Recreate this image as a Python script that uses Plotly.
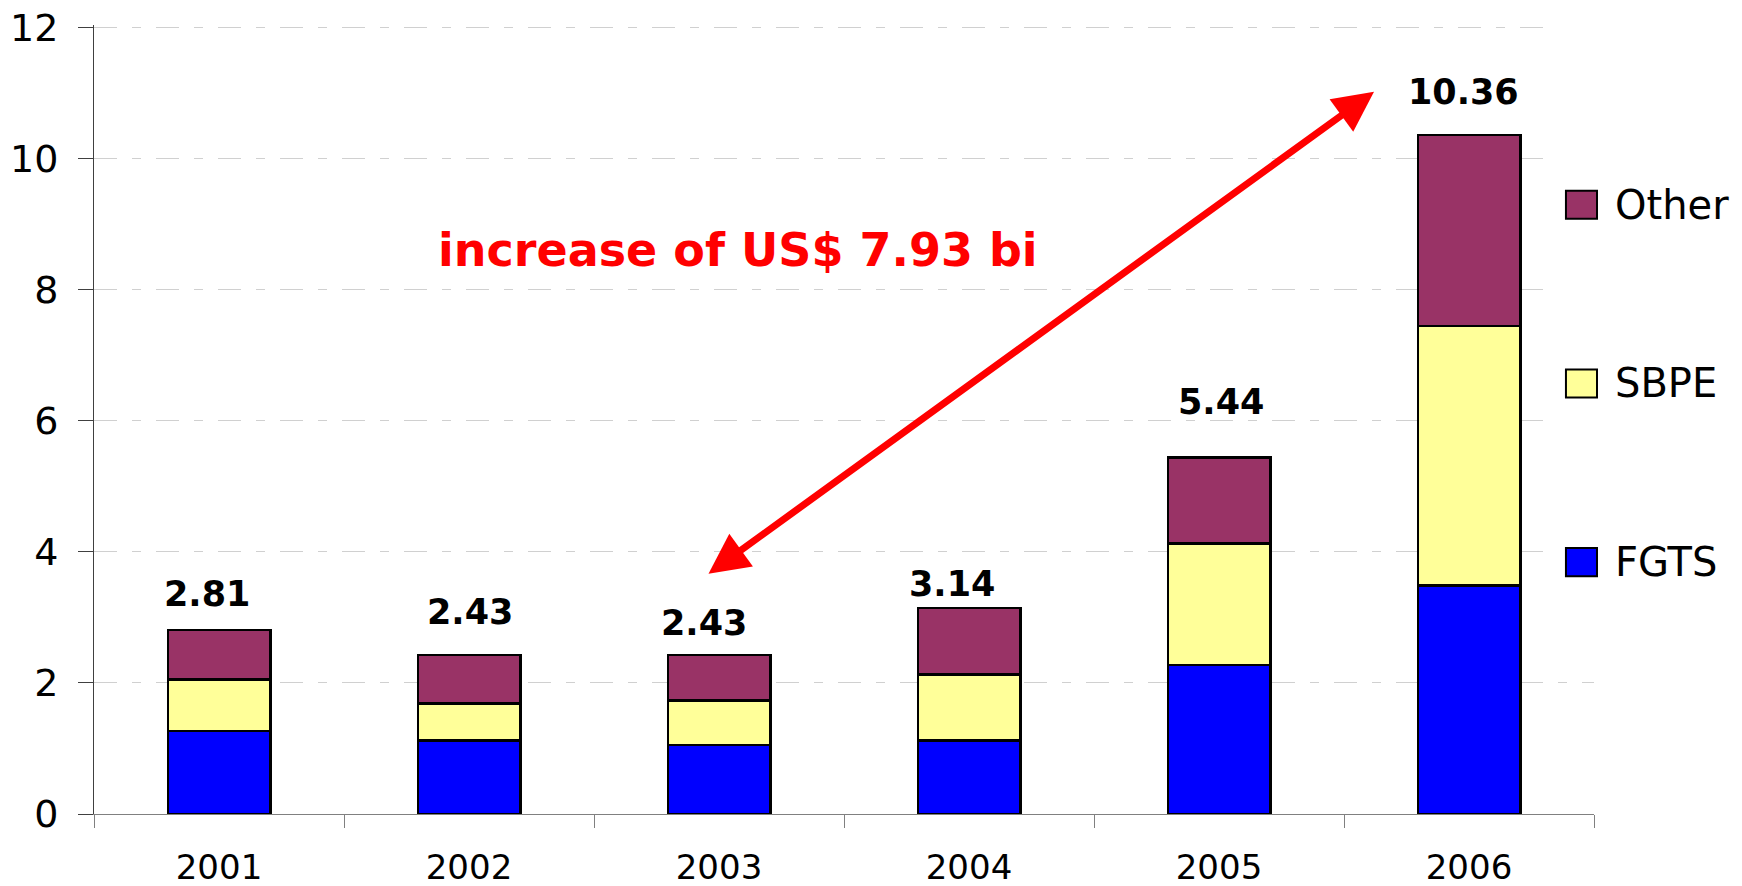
import plotly.graph_objects as go

# ---- data ----
years = ["2001", "2002", "2003", "2004", "2005", "2006"]
fgts = [1.27, 1.12, 1.05, 1.12, 2.27, 3.49]
sbpe = [0.78, 0.57, 0.68, 1.01, 1.86, 3.96]
other = [0.76, 0.74, 0.70, 1.01, 1.31, 2.91]
totals = [2.81, 2.43, 2.43, 3.14, 5.44, 10.36]
total_labels = ["2.81", "2.43", "2.43", "3.14", "5.44", "10.36"]
series_names = ["FGTS", "SBPE", "Other"]
series_colors = ["#0000FF", "#FFFF99", "#993366"]
annotation_text = "increase of US$ 7.93 bi"

# label placement tweaks (pixels), style only
label_gap = [23, 30, 19, 11, 43, 30]
label_dx = [-12, 1, -15, -17, 2, -6]

fig = go.Figure()
for name, vals, col in zip(series_names, [fgts, sbpe, other], series_colors):
    fig.add_trace(go.Bar(
        x=years, y=vals, name=name, width=0.41,
        marker=dict(color=col, line=dict(color="#000000", width=2.5)),
        showlegend=False,
    ))

annotations = []
for i, (t, lab) in enumerate(zip(totals, total_labels)):
    annotations.append(dict(
        x=i, y=t, xref="x", yref="y", text=lab, showarrow=False,
        yanchor="bottom", xanchor="center",
        yshift=label_gap[i] - 9, xshift=label_dx[i],
        font=dict(family="DejaVu Sans", size=35, color="#000000", weight="bold"),
    ))

# double-headed arrow
annotations.append(dict(
    x=4.62, y=11.02, ax=1.952, ay=3.65,
    xref="x", yref="y", axref="x", ayref="y",
    text="", showarrow=True, arrowside="end+start",
    arrowhead=2, startarrowhead=2, arrowsize=1.15, startarrowsize=1.15,
    arrowwidth=7, arrowcolor="#FF0000", standoff=0, startstandoff=0,
))
annotations.append(dict(
    x=2.076, y=8.61, xref="x", yref="y", text=annotation_text, showarrow=False,
    xanchor="center", yanchor="middle",
    font=dict(family="DejaVu Sans", size=46, color="#FF0000", weight="bold"),
))

# manual legend (Other, SBPE, FGTS from top)
shapes = [dict(type="rect", xref="paper", yref="paper", x0=0.973, x1=1.2, y0=0.25, y1=1.03,
               fillcolor="#FFFFFF", line=dict(width=0), layer="above")]
leg_top = 0.790
leg_step = 0.2265
leg_h = 0.0356
for k, idx in enumerate([2, 1, 0]):
    y1 = leg_top - k * leg_step
    y0 = y1 - leg_h
    shapes.append(dict(type="rect", xref="paper", yref="paper", x0=0.9813, x1=1.002,
                       y0=y0, y1=y1, fillcolor=series_colors[idx],
                       line=dict(color="#000000", width=2), layer="above"))
    annotations.append(dict(
        x=1.0127, y=(y0 + y1) / 2, xref="paper", yref="paper", text=series_names[idx],
        showarrow=False, xanchor="left", yanchor="middle",
        font=dict(family="DejaVu Sans", size=40, color="#000000"),
    ))

fig.update_layout(
    barmode="stack",
    width=1734, height=878,
    margin=dict(l=86, r=148, t=17, b=72, autoexpand=False),
    paper_bgcolor="#FFFFFF", plot_bgcolor="#FFFFFF",
    annotations=annotations, shapes=shapes,
    showlegend=False,
    xaxis=dict(
        type="category", range=[-0.5, 5.5], tickson="boundaries", automargin=False,
        ticks="outside", ticklen=13, tickcolor="#808080", tickwidth=1,
        showline=True, linecolor="#808080", linewidth=1,
        showgrid=False, ticklabelstandoff=23, ticklabeloverflow="allow",
        tickfont=dict(family="DejaVu Sans", size=34, color="#000000"),
    ),
    yaxis=dict(
        range=[0, 12.04], tickvals=[0, 2, 4, 6, 8, 10, 12], automargin=False,
        ticks="outside", ticklen=15, tickcolor="#404040", tickwidth=1,
        showline=True, linecolor="#404040", linewidth=1,
        showgrid=True, gridcolor="#D0D0D0", gridwidth=1, griddash="23px,15px,9px,15px",
        zeroline=False, ticklabelstandoff=12, ticklabeloverflow="allow",
        tickfont=dict(family="DejaVu Sans", size=38, color="#000000"),
    ),
)

fig.write_html("out.html")
